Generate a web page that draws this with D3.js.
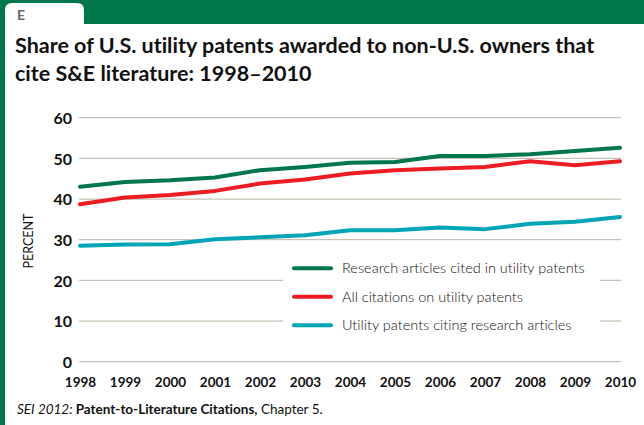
<!DOCTYPE html>
<html>
<head>
<meta charset="utf-8">
<title>Patent-to-Literature Citations</title>
<style>
    body { margin: 0; background: #fff; }
    svg { display: block; }
    text { font-variant-ligatures: none; }
</style>
</head>
<body>
<div id="chart"></div>
<script src="https://d3js.org/d3.v7.min.js"></script>
<script>

// data
var years = [1998, 1999, 2000, 2001, 2002, 2003, 2004, 2005, 2006, 2007, 2008, 2009, 2010];
var researchArticles = [43.0, 44.2, 44.6, 45.3, 47.1, 47.9, 48.9, 49.1, 50.6, 50.6, 51.0, 51.8, 52.6];
var allCitations     = [38.7, 40.4, 41.0, 42.0, 43.8, 44.8, 46.3, 47.1, 47.5, 47.9, 49.3, 48.3, 49.3];
var patentsCiting    = [28.5, 28.8, 28.9, 30.1, 30.6, 31.1, 32.3, 32.3, 33.0, 32.6, 33.9, 34.4, 35.6];
var seriesNames = ["Research articles cited in utility patents", "All citations on utility patents", "Utility patents citing research articles"];
var seriesColors = ["#00774a", "#ed1c24", "#00a5b5"];
var yTicks = [0, 10, 20, 30, 40, 50, 60];

var W = 644, H = 425;
var frameGreen = "#00774a";
var font = "Lato, 'Open Sans', sans-serif";

var svg = d3.select("#chart").append("svg")
    .attr("width", W)
    .attr("height", H);

// frame: top band, left edge, white tab
svg.append("rect").attr("x", 0).attr("y", 0).attr("width", W).attr("height", 24).attr("fill", frameGreen);
svg.append("rect").attr("x", 0).attr("y", 0).attr("width", 5).attr("height", H).attr("fill", frameGreen);
svg.append("path")
    .attr("d", "M5,24 V10 Q5,3 12,3 H77 Q84,3 84,10 V24 Z")
    .attr("fill", "#fff");
svg.append("text")
    .attr("x", 17).attr("y", 20)
    .attr("font-family", font)
    .attr("font-weight", 700)
    .attr("font-size", 14)
    .attr("fill", "#666")
    .text("E");

// title
var title = svg.append("text")
    .attr("font-family", font)
    .attr("font-weight", 700)
    .attr("font-size", 21.5)
    .attr("fill", "#111");
title.append("tspan").attr("x", 15).attr("y", 53).text("Share of U.S. utility patents awarded to non-U.S. owners that");
title.append("tspan").attr("x", 15).attr("y", 81).text("cite S&E literature: 1998\u20132010");

// scales
var x = d3.scaleLinear().domain([1998, 2010]).range([80, 620]);
var y = d3.scaleLinear().domain([0, 60]).range([361.7, 117.7]);

// gridlines (10 and 20 are broken by the legend)
var grid = svg.append("g");
yTicks.forEach(function(t) {
    if (t == 10 || t == 20) {
        grid.append("line").attr("x1", 79).attr("x2", 283).attr("y1", y(t)).attr("y2", y(t));
        grid.append("line").attr("x1", 600).attr("x2", 621).attr("y1", y(t)).attr("y2", y(t));
    } else {
        grid.append("line").attr("x1", 79).attr("x2", 621).attr("y1", y(t)).attr("y2", y(t));
    }
});
grid.selectAll("line").attr("stroke", "#c9c1b5").attr("stroke-width", 1.3);

// y axis labels
var yAxis = d3.axisLeft(y).tickValues(yTicks).tickSize(0).tickPadding(0);
var gy = svg.append("g").attr("transform", "translate(72,0)").call(yAxis);
gy.select(".domain").remove();
gy.selectAll("text")
    .attr("font-family", font)
    .attr("font-weight", 700)
    .attr("font-size", 16)
    .attr("fill", "#111")
    .attr("dy", "0.36em");

// x axis labels
var xAxis = d3.axisBottom(x).tickValues(years).tickFormat(d3.format("d")).tickSize(0).tickPadding(0);
var gx = svg.append("g").attr("transform", "translate(0,377)").call(xAxis);
gx.select(".domain").remove();
gx.selectAll("text")
    .attr("font-family", font)
    .attr("font-weight", 700)
    .attr("font-size", 13.5)
    .attr("fill", "#111");

// y axis title
svg.append("text")
    .attr("transform", "translate(33,241) rotate(-90)")
    .attr("text-anchor", "middle")
    .attr("font-family", font)
    .attr("font-size", 12.5)
    .attr("fill", "#111")
    .text("PERCENT");

// lines
var allSeries = [researchArticles, allCitations, patentsCiting];
var line = d3.line()
    .x(function(d, i) { return x(years[i]); })
    .y(function(d) { return y(d); });

// draw cyan first, green on top
[2, 1, 0].forEach(function(k) {
    svg.append("path")
        .datum(allSeries[k])
        .attr("fill", "none")
        .attr("stroke", seriesColors[k])
        .attr("stroke-width", 4)
        .attr("stroke-linejoin", "round")
        .attr("stroke-linecap", "round")
        .attr("d", line);
});

// legend
var legendY = [268.3, 296.7, 325.3];
var legend = svg.append("g");
seriesNames.forEach(function(name, i) {
    legend.append("line")
        .attr("x1", 294).attr("x2", 331)
        .attr("y1", legendY[i]).attr("y2", legendY[i])
        .attr("stroke", seriesColors[i])
        .attr("stroke-width", 4)
        .attr("stroke-linecap", "round");
    legend.append("text")
        .attr("x", 342).attr("y", legendY[i])
        .attr("dy", "0.35em")
        .attr("font-family", font)
        .attr("font-weight", 300)
        .attr("font-size", 14.5)
        .attr("fill", "#111")
        .text(name);
});

// source note
var note = svg.append("text")
    .attr("x", 17).attr("y", 414)
    .attr("font-family", font)
    .attr("font-size", 13.5)
    .attr("fill", "#111");
note.append("tspan").attr("font-style", "italic").text("SEI 2012: ");
note.append("tspan").attr("font-weight", 700).text("Patent-to-Literature Citations,");
note.append("tspan").text(" Chapter 5.");

</script>
</body>
</html>
